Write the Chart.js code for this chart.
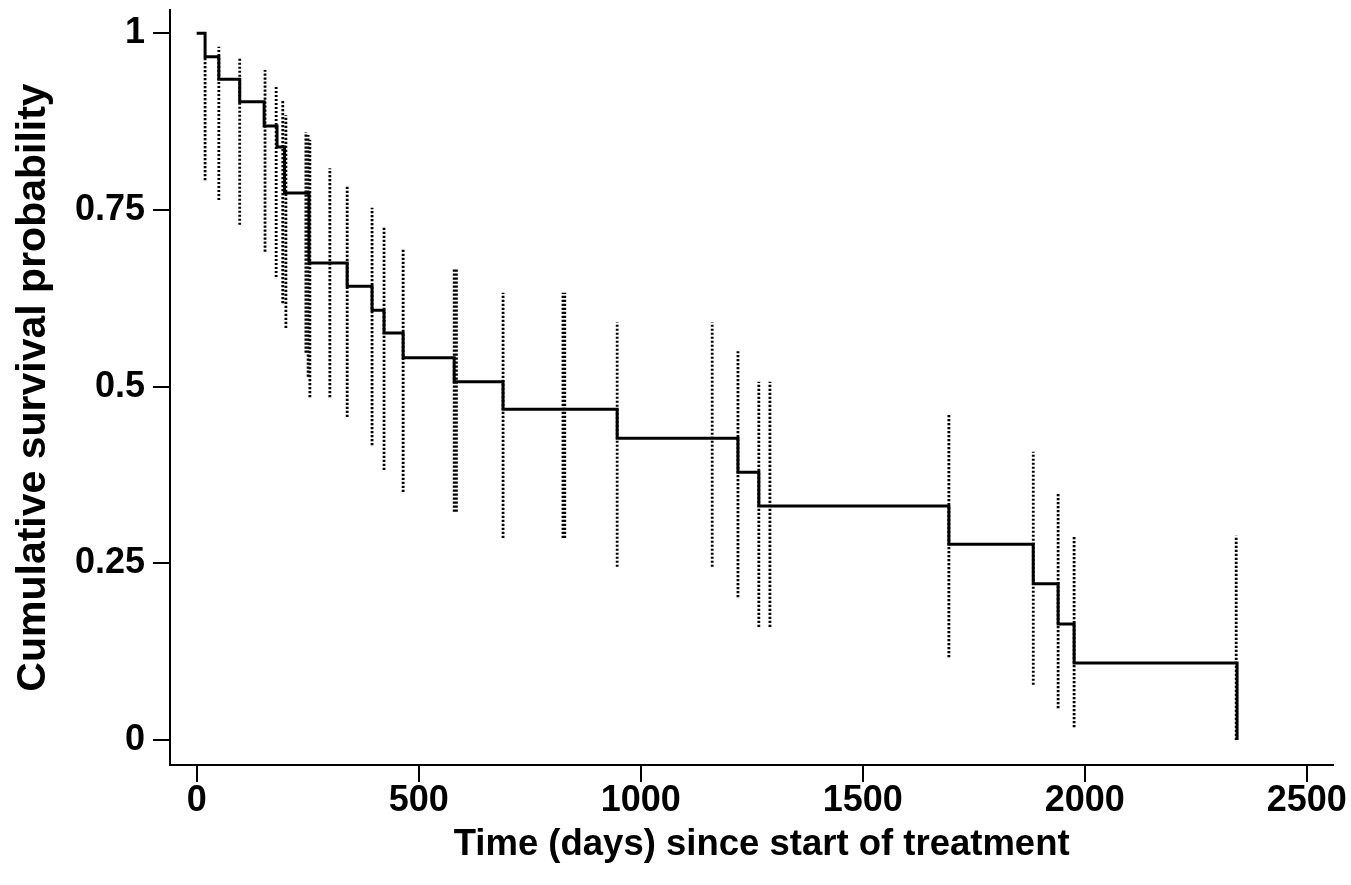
<!DOCTYPE html>
<html>
<head>
<meta charset="utf-8">
<script src="https://cdn.jsdelivr.net/npm/chart.js@4/dist/chart.umd.min.js"></script>
<style>
  body { margin: 0; background: #fff; }
  #wrap { width: 1351px; height: 885px; }
</style>
</head>
<body>
<div id="wrap"><canvas id="kmChart" width="1351" height="885"></canvas></div>
<script>
'use strict';

// Kaplan-Meier estimate: day of each drop and survival after it
const stepDays = [0, 19, 50, 97, 152, 181, 198, 253, 339, 395, 422, 465, 580, 690, 947, 1219, 1266, 1694, 1884, 1940, 1976, 2343];
const stepSurv = [1, 0.967, 0.935, 0.903, 0.869, 0.839, 0.774, 0.675, 0.642, 0.608, 0.576, 0.541, 0.507, 0.468, 0.427, 0.379, 0.331, 0.277, 0.221, 0.164, 0.109, 0];

// dotted confidence bars
const ciDays = [19, 50, 97, 154, 179, 194, 201, 246, 251, 255, 300, 339, 395, 422, 465, 580, 585, 690, 825, 829, 947, 1161, 1219, 1266, 1291, 1694, 1884, 1940, 1976, 2341];
const ciLow  = [0.792, 0.764, 0.729, 0.691, 0.655, 0.618, 0.583, 0.548, 0.514, 0.485, 0.485, 0.457, 0.417, 0.382, 0.351, 0.323, 0.323, 0.286, 0.286, 0.286, 0.245, 0.245, 0.202, 0.160, 0.160, 0.117, 0.078, 0.045, 0.018, 0];
const ciHigh = [0.965, 0.981, 0.965, 0.948, 0.927, 0.906, 0.884, 0.860, 0.856, 0.849, 0.809, 0.783, 0.753, 0.725, 0.696, 0.668, 0.668, 0.633, 0.633, 0.633, 0.591, 0.591, 0.550, 0.507, 0.507, 0.461, 0.408, 0.348, 0.289, 0.289];

const xTicks = [0, 500, 1000, 1500, 2000, 2500];
const yTicks = [0, 0.25, 0.5, 0.75, 1];

const FONT = "'Liberation Sans', Arial, Helvetica, sans-serif";

let curve = stepDays.map((d, i) => ({x: d, y: stepSurv[i]}));

let bars = [];
ciDays.forEach(function(d, i) {
  bars.push({x: d, y: ciLow[i]});
  bars.push({x: d, y: ciHigh[i]});
  bars.push({x: d, y: null});
});

let ctx = document.getElementById('kmChart');
let chart = new Chart(ctx, {
  type: 'line',
  data: {
    datasets: [{
      data: bars,
      borderColor: '#000',
      borderWidth: 2.8,
      borderDash: [2.2, 1.8],
      pointRadius: 0,
      spanGaps: false
    }, {
      data: curve,
      stepped: 'before',
      borderColor: '#000',
      borderWidth: 3,
      pointRadius: 0
    }]
  },
  options: {
    responsive: false,
    animation: false,
    devicePixelRatio: 1,
    layout: {padding: {top: 10, right: 18, left: 0, bottom: 0}},
    plugins: {legend: {display: false}, tooltip: {enabled: false}},
    scales: {
      x: {
        type: 'linear',
        min: -60,
        max: 2559,
        afterBuildTicks: function(scale) {
          scale.ticks = xTicks.map(v => ({value: v}));
        },
        afterFit: function(scale) {
          scale.height = 120;
          scale.paddingLeft = 0;
          scale.paddingRight = 0;
        },
        border: {display: true, color: '#000', width: 2},
        grid: {display: true, drawOnChartArea: false, drawTicks: true, tickLength: 17, tickColor: '#000', lineWidth: 2},
        ticks: {
          color: '#000',
          padding: 1,
          maxRotation: 0,
          autoSkip: false,
          font: {family: FONT, size: 36, weight: 'bold', lineHeight: 1},
          callback: v => String(v)
        },
        title: {
          display: true,
          text: '\u00a0\u00a0Time (days) since start of treatment',
          color: '#000',
          padding: {top: 0, bottom: 22},
          font: {family: FONT, size: 36.5, weight: 'bold', lineHeight: 1}
        }
      },
      y: {
        type: 'linear',
        min: -0.0354,
        max: 1.033,
        afterBuildTicks: function(scale) {
          scale.ticks = yTicks.map(v => ({value: v}));
        },
        afterFit: function(scale) {
          scale.width = 170;
          scale.paddingTop = 0;
          scale.paddingBottom = 0;
        },
        border: {display: true, color: '#000', width: 2},
        grid: {display: true, drawOnChartArea: false, drawTicks: true, tickLength: 17, tickColor: '#000', lineWidth: 2},
        ticks: {
          color: '#000',
          padding: 8,
          font: {family: FONT, size: 36, weight: 'bold', lineHeight: 1},
          callback: v => String(v)
        },
        title: {
          display: true,
          text: 'Cumulative survival probability',
          color: '#000',
          padding: {top: 13, bottom: 0},
          font: {family: FONT, size: 41, weight: 'bold', lineHeight: 1}
        }
      }
    }
  }
});
</script>
</body>
</html>
